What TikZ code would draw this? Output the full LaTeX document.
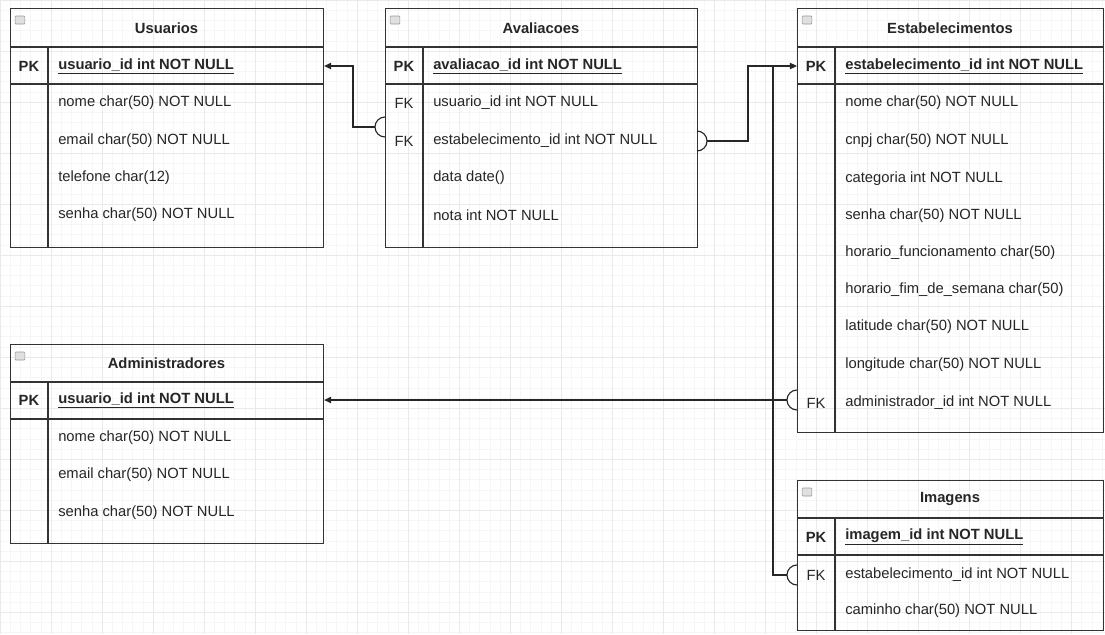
\documentclass[tikz,border=0pt]{standalone}
\usepackage{fontspec}
\setmainfont{Liberation Sans}
\usetikzlibrary{arrows.meta,positioning}
\definecolor{GridMinor}{RGB}{246,246,246}
\definecolor{GridMajor}{RGB}{234,234,234}
\newcommand{\fieldfont}{\fontsize{10.5}{12}\selectfont}

\begin{document}
\begin{tikzpicture}[
  x=0.025cm,y=-0.025cm,
  tbl/.style={draw=black!80,line width=0.8pt,anchor=north west,inner sep=0pt},
  rule/.style={draw=black!80,line width=0.8pt},
  pkrule/.style={draw=black!80,line width=1.3pt},
  fold/.style={draw=black!40,fill=black!12,rounded corners=0.5pt,minimum width=0.24cm,minimum height=0.2cm,inner sep=0pt},
  title/.style={font=\bfseries\fieldfont,text=black!85},
  key/.style={font=\fieldfont,text=black!85,inner sep=0pt},
  pkkey/.style={key,font=\bfseries\fieldfont},
  field/.style={anchor=west,font=\fieldfont,text=black!85,inner sep=0pt},
  pkfield/.style={field,font=\bfseries\fieldfont},
  link/.style={draw=black!85,line width=0.8pt},
  arrowend/.style={-{Triangle[length=5pt,width=4.5pt]}}]
\useasboundingbox (0,0) rectangle (1105,634);
\fill[white] (0,0) rectangle (1105,634);
\draw[GridMinor,line width=0.3pt,step=0.255cm] (0,0) grid (1105,634);
\draw[GridMajor,line width=0.5pt,step=1.275cm] (0,0) grid (1105,634);
% Usuarios
\node[tbl,minimum width=313*0.025cm,minimum height=239*0.025cm] (usr) at (10,8) {};
\draw[rule] (10,47) -- (323,47);
\draw[pkrule] (10,84) -- (323,84);
\draw[rule] (48,47) -- (48,247);
\node[fold] (usrfold) at (20,20) {};
\node[title] (usrtitle) at (166.5,28) {Usuarios};
\node[pkkey] (usrpkkey) at (29,66) {PK};
\node[pkfield] (usrpk) at (58,66) {\underline{usuario\_id int NOT NULL}};
\node[field] (usrnome) at (58,103) {nome char(50) NOT NULL};
\node[field] (usremail) at (58,141) {email char(50) NOT NULL};
\node[field] (usrfone) at (58,178) {telefone char(12)};
\node[field] (usrsenha) at (58,215) {senha char(50) NOT NULL};
% Avaliacoes
\node[tbl,minimum width=312*0.025cm,minimum height=239*0.025cm] (av) at (385,8) {};
\draw[rule] (385,47) -- (697,47);
\draw[pkrule] (385,84) -- (697,84);
\draw[rule] (423,47) -- (423,247);
\node[fold] (avfold) at (395,20) {};
\node[title] (avtitle) at (541,28) {Avaliacoes};
\node[pkkey] (avpkkey) at (404,66) {PK};
\node[pkfield] (avpk) at (433,66) {\underline{avaliacao\_id int NOT NULL}};
\node[key] (avfkkey1) at (404,103) {FK};
\node[field] (avfk1) at (433,103) {usuario\_id int NOT NULL};
\node[key] (avfkkey2) at (404,141) {FK};
\node[field] (avfk2) at (433,141) {estabelecimento\_id int NOT NULL};
\node[field] (avdata) at (433,178) {data date()};
\node[field] (avnota) at (433,215) {nota int NOT NULL};
% Estabelecimentos
\node[tbl,minimum width=306*0.025cm,minimum height=424*0.025cm] (est) at (797,8) {};
\draw[rule] (797,47) -- (1103,47);
\draw[pkrule] (797,84) -- (1103,84);
\draw[rule] (835,47) -- (835,432);
\node[fold] (estfold) at (807,20) {};
\node[title] (esttitle) at (950,28) {Estabelecimentos};
\node[pkkey] (estpkkey) at (816,66) {PK};
\node[pkfield] (estpk) at (845,66) {\underline{estabelecimento\_id int NOT NULL}};
\node[field] (estnome) at (845,103) {nome char(50) NOT NULL};
\node[field] (estcnpj) at (845,141) {cnpj char(50) NOT NULL};
\node[field] (estcat) at (845,179) {categoria int NOT NULL};
\node[field] (estsenha) at (845,216) {senha char(50) NOT NULL};
\node[field] (esthor) at (845,253) {horario\_funcionamento char(50)};
\node[field] (estfim) at (845,290) {horario\_fim\_de\_semana char(50)};
\node[field] (estlat) at (845,327) {latitude char(50) NOT NULL};
\node[field] (estlon) at (845,365) {longitude char(50) NOT NULL};
\node[key] (estfkkey) at (816,403) {FK};
\node[field] (estfk) at (845,403) {administrador\_id int NOT NULL};
% Administradores
\node[tbl,minimum width=313*0.025cm,minimum height=199*0.025cm] (adm) at (10,344) {};
\draw[rule] (10,382) -- (323,382);
\draw[pkrule] (10,419) -- (323,419);
\draw[rule] (48,382) -- (48,543);
\node[fold] (admfold) at (20,356) {};
\node[title] (admtitle) at (166.5,363) {Administradores};
\node[pkkey] (admpkkey) at (29,400) {PK};
\node[pkfield] (admpk) at (58,400) {\underline{usuario\_id int NOT NULL}};
\node[field] (admnome) at (58,438) {nome char(50) NOT NULL};
\node[field] (admemail) at (58,475) {email char(50) NOT NULL};
\node[field] (admsenha) at (58,513) {senha char(50) NOT NULL};
% Imagens
\node[tbl,minimum width=306*0.025cm,minimum height=150*0.025cm] (img) at (797,480) {};
\draw[rule] (797,518) -- (1103,518);
\draw[pkrule] (797,555) -- (1103,555);
\draw[rule] (835,518) -- (835,630);
\node[fold] (imgfold) at (807,492) {};
\node[title] (imgtitle) at (950,499) {Imagens};
\node[pkkey] (imgpkkey) at (816,537) {PK};
\node[pkfield] (imgpk) at (845,537) {\underline{imagem\_id int NOT NULL}};
\node[key] (imgfkkey) at (816,575) {FK};
\node[field] (imgfk) at (845,575) {estabelecimento\_id int NOT NULL};
\node[field] (imgcam) at (845,611) {caminho char(50) NOT NULL};
% relations
\coordinate (avusr) at (385,127);
\coordinate (avest) at (697,141);
\coordinate (estadm) at (797,400);
\coordinate (imgest) at (797,575);
\coordinate (junction) at (773,66);
\draw[link] (avusr) ++(0,-10) arc[start angle=90,end angle=270,radius=0.25cm];
\draw[link,arrowend] ([xshift=-0.25cm]avusr) -| (353,66) -- (usr.east |- usrpk);
\draw[link] (avest) ++(0,-10) arc[start angle=90,end angle=-90,radius=0.25cm];
\draw[link,arrowend] ([xshift=0.25cm]avest) -| (748,66) -- (est.west |- estpk);
\draw[link] (estadm) ++(0,-10) arc[start angle=90,end angle=270,radius=0.25cm];
\draw[link,arrowend] ([xshift=-0.25cm]estadm) -- (adm.east |- admpk);
\draw[link] (imgest) ++(0,-10) arc[start angle=90,end angle=270,radius=0.25cm];
\draw[link] ([xshift=-0.25cm]imgest) -| (junction);
\end{tikzpicture}
\end{document}
